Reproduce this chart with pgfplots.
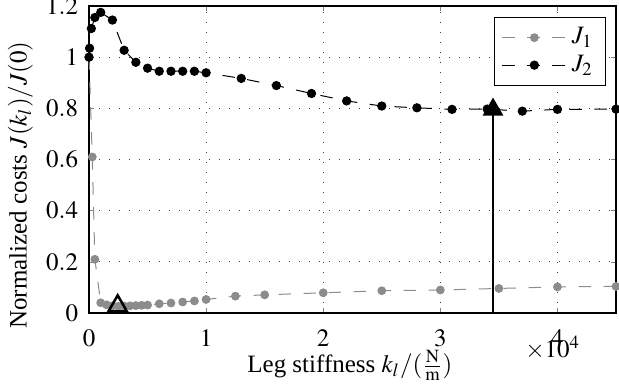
\documentclass[border=0pt]{standalone}
\usepackage{mathptmx}
\usepackage{fontspec}
\setmainfont{Liberation Serif}
\usepackage{pgfplots}
\pgfplotsset{compat=1.18}
\usetikzlibrary{calc}
\definecolor{mygray}{rgb}{0.55,0.55,0.55}
\begin{document}
\begin{tikzpicture}
\begin{axis}[
  scale only axis,
  width=210.8pt, height=122.8pt,
  xmin=0, xmax=45000, ymin=0, ymax=1.2,
  xtick={0,10000,20000,30000,40000},
  ytick={0,0.2,0.4,0.6,0.8,1,1.2},
  scaled x ticks=base 10:-4,
  tick scale binop=\times,
  every x tick scale label/.style={at={(axis description cs:0.88,0)},anchor=center,yshift=-13.8pt},
  xticklabel shift=3pt,
  yticklabel shift=0.8pt,
  every axis x label/.style={at={(axis description cs:0.495,0)},anchor=center,yshift=-21pt},
  every axis y label/.style={at={(axis description cs:-0.13,0.417)},anchor=center,rotate=90},
  tick align=inside,
  major tick length=2pt,
  grid=major,
  major grid style={line width=0.4pt, black!75, dash pattern=on 0.4pt off 3.6pt},
  axis line style={line width=0.5pt},
  clip=false,
  xlabel={Leg stiffness $k_l/(\frac{\mathrm{N}}{\mathrm{m}})$},
  ylabel={Normalized costs $J(k_l)/J(0)$},
  legend style={at={(0.981,0.964)}, anchor=north east, draw=black, line width=0.5pt, row sep=-1pt},
  legend cell align=left,
  legend image code/.code={\draw[mark repeat=2,mark phase=2] plot coordinates {(0cm,0cm)(0.45cm,0cm)(0.9cm,0cm)};},
]
\addplot[mygray, line width=0.4pt, dash pattern=on 5pt off 5pt, mark=*, mark size=1.55pt, mark options={solid, fill=mygray, draw=mygray}]
coordinates {
(0,1.0)(280,0.61)(500,0.21)(1000,0.040)(1500,0.032)(2000,0.028)(2500,0.026)(3000,0.027)(3500,0.028)(4000,0.029)(4500,0.030)(5000,0.031)(6000,0.036)(7000,0.039)(8000,0.043)(9000,0.047)(10000,0.053)(12500,0.066)(15000,0.071)(20000,0.079)(25000,0.087)(30000,0.090)(35000,0.096)(40000,0.102)(45000,0.104)
};
\addlegendentry{$J_1$}
\addplot[black, line width=0.4pt, dash pattern=on 5pt off 5pt, mark=*, mark size=1.65pt, mark options={solid, fill=black}]
coordinates {
(0,1.0)(50,1.035)(200,1.112)(500,1.155)(1000,1.175)(2000,1.145)(3000,1.027)(4000,0.980)(5000,0.957)(6000,0.945)(7000,0.945)(8000,0.945)(9000,0.945)(10000,0.939)(13000,0.917)(16000,0.889)(19000,0.858)(22000,0.829)(25000,0.809)(28000,0.802)(31000,0.796)(34000,0.797)(37000,0.789)(40000,0.796)(45000,0.797)
};
\addlegendentry{$J_2$}
\addplot[black, line width=0.95pt, forget plot] coordinates {(34500,0)(34500,0.795)};
\addplot[only marks, black, mark=triangle*, mark size=4.3pt, mark options={fill=black, line width=0.5pt}, forget plot] coordinates {(34500,0.795)};
\addplot[only marks, black, mark=triangle, mark size=4.3pt, mark options={line width=1pt}, forget plot] coordinates {(2450,0.027)};
\end{axis}
\pgfresetboundingbox
\path[use as bounding box] ($(current axis.south west)+(-35.6pt,-30pt)$) rectangle ($(current axis.north east)+(1.2pt,2.4pt)$);
\end{tikzpicture}
\end{document}
